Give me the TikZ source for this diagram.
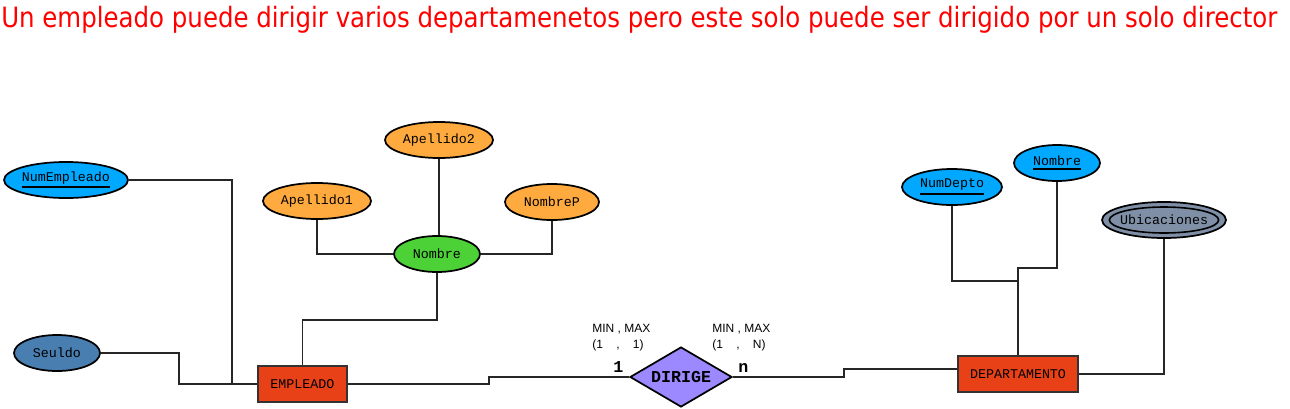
\documentclass[tikz,border=0pt]{standalone}
\usepackage{fontspec}
\usepackage{graphicx}
\usetikzlibrary{shapes.geometric}
\newfontfamily\titlefont{DejaVu Sans}
\newfontfamily\labfont{Liberation Sans}
\newfontfamily\monofont{Liberation Mono}
\definecolor{keyblue}{HTML}{00A8FF}
\definecolor{steelc}{HTML}{487EB0}
\definecolor{orangec}{HTML}{FFAA3F}
\definecolor{greenc}{HTML}{4CD137}
\definecolor{entred}{HTML}{E84118}
\definecolor{relviolet}{HTML}{9C88FF}
\definecolor{multigray}{HTML}{7F8FA6}
\newcommand\keyattr[1]{\setbox0\hbox{#1}\vtop{\copy0\kern1.8pt\hrule height 1.4pt width \wd0}}
\tikzset{
  attr/.style={ellipse, draw=black, line width=1.3pt, inner xsep=-10pt, inner ysep=-8pt, minimum height=27pt, font=\monofont\fontsize{10pt}{12pt}\selectfont},
  entbox/.style={rectangle, draw=black!80, line width=1.3pt, fill=entred, inner sep=0pt, minimum height=27pt, font=\monofont\fontsize{10pt}{12pt}\selectfont},
  relbox/.style={diamond, draw=black, line width=1.3pt, fill=relviolet, inner sep=0pt, minimum width=76.5pt, minimum height=45pt},
  reltext/.style={inner sep=0pt, font=\monofont\bfseries\fontsize{12.5pt}{14pt}\selectfont},
  conn/.style={line width=1.3pt, draw=black!85},
  cardlab/.style={anchor=base west, inner sep=0pt, font=\labfont\fontsize{9pt}{11pt}\selectfont},
  cardnum/.style={anchor=base west, inner sep=0pt, font=\monofont\bfseries\fontsize{12.5pt}{14pt}\selectfont}
}
\begin{document}
\begin{tikzpicture}[x=0.75pt,y=-0.75pt]
\useasboundingbox (0,0) rectangle (1290,408);
% title
\node[anchor=base west, inner sep=0pt, text=red] (title) at (1,27) {\resizebox{957pt}{\height}{\titlefont\fontsize{21pt}{24pt}\selectfont Un empleado puede dirigir varios departamenetos pero este solo puede ser dirigido por un solo director}};
% attributes
\node[attr, fill=keyblue, minimum width=93pt] (numemp) at (66,180) {\keyattr{NumEmpleado}};
\node[attr, fill=steelc, minimum width=64.5pt] (seuldo) at (57,353) {Seuldo};
\node[attr, fill=orangec, minimum width=81pt] (ap2) at (439,140) {Apellido2};
\node[attr, fill=orangec, minimum width=81pt] (ap1) at (317,201) {Apellido1};
\node[attr, fill=orangec, minimum width=70.5pt] (nomp) at (552,202) {NombreP};
\node[attr, fill=greenc, minimum width=64.5pt] (nombre) at (437,254) {Nombre};
\node[attr, fill=keyblue, minimum width=75pt] (numdepto) at (952,187) {\keyattr{NumDepto}};
\node[attr, fill=keyblue, minimum width=64.5pt] (nomdep) at (1057,163) {\keyattr{Nombre}};
\node[attr, fill=multigray, minimum width=93pt] (ubi) at (1164,220) {};
\node[attr, minimum width=82pt, minimum height=19.5pt, line width=1.2pt, inner xsep=-20pt] (ubiin) at (ubi.center) {Ubicaciones};
% entities and relation
\node[entbox, minimum width=66.75pt] (emp) at (302.5,384) {EMPLEADO};
\node[entbox, minimum width=90pt] (dep) at (1018,374) {DEPARTAMENTO};
\node[relbox] (dirige) at (681,377) {};
\node[reltext] (dirigetxt) at (dirige.center) {DIRIGE};
% cardinality labels
\node[cardlab] (l1a) at (592,332) {MIN , MAX};
\node[cardlab] (l1b) at (592,348) {(1\hspace{10pt},\hspace{10pt}1)};
\node[cardlab] (l2a) at (712,332) {MIN , MAX};
\node[cardlab] (l2b) at (712,348) {(1\hspace{10pt},\hspace{10pt}N)};
\node[cardnum] (c1) at (613,372) {1};
\node[cardnum] (c2) at (738,372) {n};
% connectors
\draw[conn] (numemp.east) -| (232,384) -- (emp.west);
\draw[conn] (seuldo.east) -| (179,384) -- (emp.west);
\draw[conn] (ap1.south) |- (nombre.west);
\draw[conn] (ap2.south) -- (ap2.south |- nombre.north);
\draw[conn] (nomp.south) |- (nombre.east);
\draw[conn] (nombre.south) -- ++(0,47) -| (emp.north);
\draw[conn] (emp.east) -| (489,377) -- (dirige.west);
\draw[conn] (dirige.east) -| (844,369) -- ([yshift=3.75pt]dep.west);
\draw[conn] (numdepto.south) |- (1018,281) -- (dep.north);
\draw[conn] (nomdep.south) |- (1018,268) -- (1018,281);
\draw[conn] (ubi.south) |- (dep.east);
\end{tikzpicture}
\end{document}
